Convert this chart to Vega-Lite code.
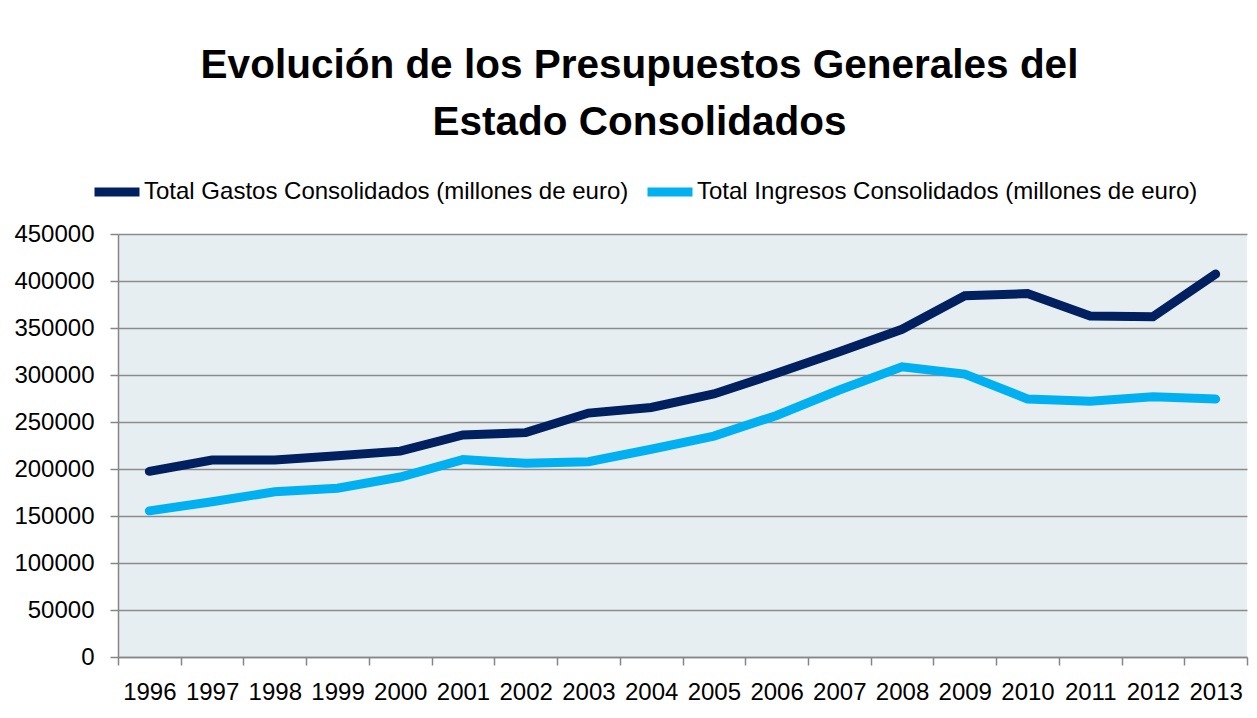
{
  "$schema": "https://vega.github.io/schema/vega-lite/v6.json",
  "autosize": "none",
  "width": 1129,
  "height": 423,
  "padding": {"left": 118, "top": 234, "right": 10, "bottom": 61},
  "background": "white",
  "title": {
    "text": ["Evolución de los Presupuestos Generales del", "Estado Consolidados"],
    "font": "Liberation Sans",
    "fontSize": 40.5,
    "fontWeight": "bold",
    "color": "#000000",
    "anchor": "middle",
    "frame": "group",
    "dx": -43,
    "lineHeight": 57,
    "offset": 22
  },
  "config": {
    "view": {"stroke": null, "fill": "#e7eef2"},
    "font": "Liberation Sans"
  },
  "data": {
    "values": [
      {"year": "1996", "serie": "Total Gastos Consolidados (millones de euro)", "value": 197500},
      {"year": "1997", "serie": "Total Gastos Consolidados (millones de euro)", "value": 209600},
      {"year": "1998", "serie": "Total Gastos Consolidados (millones de euro)", "value": 209600},
      {"year": "1999", "serie": "Total Gastos Consolidados (millones de euro)", "value": 214000},
      {"year": "2000", "serie": "Total Gastos Consolidados (millones de euro)", "value": 219000},
      {"year": "2001", "serie": "Total Gastos Consolidados (millones de euro)", "value": 236200},
      {"year": "2002", "serie": "Total Gastos Consolidados (millones de euro)", "value": 238700},
      {"year": "2003", "serie": "Total Gastos Consolidados (millones de euro)", "value": 259500},
      {"year": "2004", "serie": "Total Gastos Consolidados (millones de euro)", "value": 265500},
      {"year": "2005", "serie": "Total Gastos Consolidados (millones de euro)", "value": 279800},
      {"year": "2006", "serie": "Total Gastos Consolidados (millones de euro)", "value": 301800},
      {"year": "2007", "serie": "Total Gastos Consolidados (millones de euro)", "value": 324800},
      {"year": "2008", "serie": "Total Gastos Consolidados (millones de euro)", "value": 348600},
      {"year": "2009", "serie": "Total Gastos Consolidados (millones de euro)", "value": 384400},
      {"year": "2010", "serie": "Total Gastos Consolidados (millones de euro)", "value": 386600},
      {"year": "2011", "serie": "Total Gastos Consolidados (millones de euro)", "value": 362800},
      {"year": "2012", "serie": "Total Gastos Consolidados (millones de euro)", "value": 362000},
      {"year": "2013", "serie": "Total Gastos Consolidados (millones de euro)", "value": 407400},
      {"year": "1996", "serie": "Total Ingresos Consolidados (millones de euro)", "value": 155500},
      {"year": "1997", "serie": "Total Ingresos Consolidados (millones de euro)", "value": 165200},
      {"year": "1998", "serie": "Total Ingresos Consolidados (millones de euro)", "value": 175700},
      {"year": "1999", "serie": "Total Ingresos Consolidados (millones de euro)", "value": 179600},
      {"year": "2000", "serie": "Total Ingresos Consolidados (millones de euro)", "value": 191500},
      {"year": "2001", "serie": "Total Ingresos Consolidados (millones de euro)", "value": 210000},
      {"year": "2002", "serie": "Total Ingresos Consolidados (millones de euro)", "value": 206000},
      {"year": "2003", "serie": "Total Ingresos Consolidados (millones de euro)", "value": 207800},
      {"year": "2004", "serie": "Total Ingresos Consolidados (millones de euro)", "value": 221000},
      {"year": "2005", "serie": "Total Ingresos Consolidados (millones de euro)", "value": 235000},
      {"year": "2006", "serie": "Total Ingresos Consolidados (millones de euro)", "value": 257000},
      {"year": "2007", "serie": "Total Ingresos Consolidados (millones de euro)", "value": 284000},
      {"year": "2008", "serie": "Total Ingresos Consolidados (millones de euro)", "value": 308800},
      {"year": "2009", "serie": "Total Ingresos Consolidados (millones de euro)", "value": 301000},
      {"year": "2010", "serie": "Total Ingresos Consolidados (millones de euro)", "value": 274500},
      {"year": "2011", "serie": "Total Ingresos Consolidados (millones de euro)", "value": 272000},
      {"year": "2012", "serie": "Total Ingresos Consolidados (millones de euro)", "value": 276800},
      {"year": "2013", "serie": "Total Ingresos Consolidados (millones de euro)", "value": 274500}
    ]
  },
  "mark": {"type": "line", "strokeWidth": 9, "strokeCap": "round", "strokeJoin": "miter"},
  "encoding": {
    "x": {
      "field": "year",
      "type": "ordinal",
      "bandPosition": 0.5,
      "scale": {"type": "band", "paddingInner": 0, "paddingOuter": 0},
      "axis": {
        "title": null,
        "labelAngle": 0,
        "labelFont": "Liberation Sans",
        "labelFontSize": 24,
        "labelColor": "#000000",
        "labelPadding": 15,
        "tickBand": "extent",
        "tickSize": 8,
        "tickColor": "#868686",
        "tickWidth": 1.5,
        "domainColor": "#868686",
        "domainWidth": 1.5,
        "grid": false
      }
    },
    "y": {
      "field": "value",
      "type": "quantitative",
      "scale": {"domain": [0, 450000], "nice": false},
      "axis": {
        "title": null,
        "values": [0, 50000, 100000, 150000, 200000, 250000, 300000, 350000, 400000, 450000],
        "format": "d",
        "labelFont": "Liberation Sans",
        "labelFontSize": 24,
        "labelColor": "#000000",
        "labelPadding": 16,
        "tickSize": 8,
        "tickColor": "#868686",
        "tickWidth": 1.5,
        "domainColor": "#868686",
        "domainWidth": 1.5,
        "grid": true,
        "gridColor": "#8c8c8c",
        "gridWidth": 1.5
      }
    },
    "color": {
      "field": "serie",
      "type": "nominal",
      "scale": {
        "domain": ["Total Gastos Consolidados (millones de euro)", "Total Ingresos Consolidados (millones de euro)"],
        "range": ["#002060", "#00b0f0"]
      },
      "legend": {
        "title": null,
        "orient": "none",
        "direction": "horizontal",
        "legendX": -28,
        "legendY": -69,
        "symbolType": "stroke",
        "symbolSize": 2025,
        "symbolStrokeWidth": 9,
        "labelFont": "Liberation Sans",
        "labelFontSize": 24,
        "labelColor": "#000000",
        "labelOffset": 0,
        "labelLimit": 700,
        "columnPadding": 0
      }
    }
  }
}
